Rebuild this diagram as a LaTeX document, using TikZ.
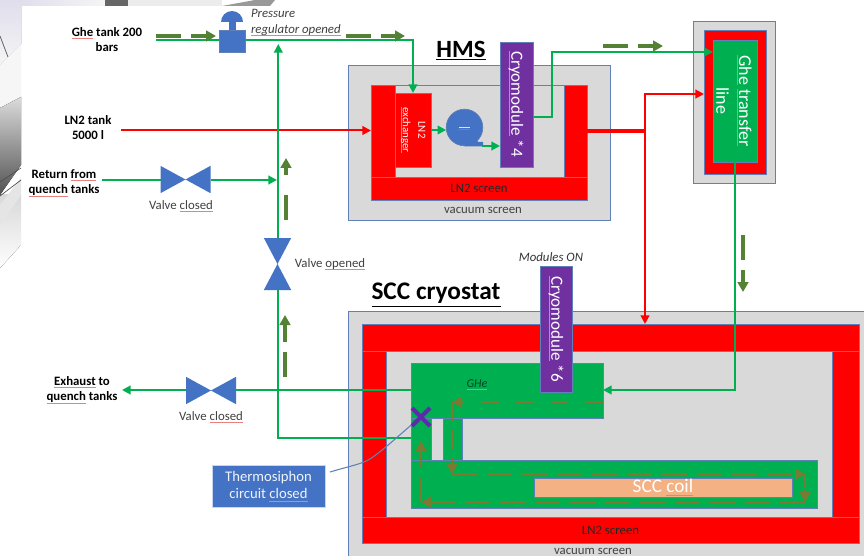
\documentclass[tikz,border=0pt]{standalone}
\usepackage{fontspec}
\setmainfont{Carlito}
\usetikzlibrary{arrows.meta,calc}
\definecolor{bred}{HTML}{FF0000}
\definecolor{bgreen}{HTML}{00B050}
\definecolor{bblue}{HTML}{4472C4}
\definecolor{bpurple}{HTML}{7030A0}
\definecolor{bgray}{HTML}{D9D9D9}
\definecolor{bedge}{HTML}{5F80B8}
\definecolor{bcoil}{HTML}{F4B183}
\definecolor{bdash}{HTML}{548235}
\definecolor{bbrown}{HTML}{7A7A32}
\definecolor{splred}{HTML}{E88080}
\definecolor{txtgray}{HTML}{404040}
\definecolor{lav}{HTML}{E0DEEC}
\newsavebox\splbox
\newcommand\spl[1]{\sbox\splbox{#1}\leavevmode\rlap{\color{splred}\rule[-1.8pt]{\wd\splbox}{0.5pt}}\usebox\splbox}
\newcommand\fs[2]{\fontsize{#1pt}{#2pt}\selectfont}
% \rbox[style]{name}{x1}{y1}{x2}{y2}{text}
\newcommand\rbox[7][]{%
  \pgfmathsetmacro\rcx{(#3+#5)/2}\pgfmathsetmacro\rcy{(#4+#6)/2}%
  \pgfmathsetmacro\rw{(#5-#3)*0.75}\pgfmathsetmacro\rh{(#6-#4)*0.75}%
  \node[part,#1,minimum width=\rw pt,minimum height=\rh pt] (#2) at (\rcx,\rcy) {#7};}
\newcommand\bowtieH[1]{\fill[bblue] (#1.north west)--(#1.south east)--(#1.north east)--(#1.south west)--cycle;}
\newcommand\bowtieV[1]{\fill[bblue] (#1.north west)--(#1.north east)--(#1.south west)--(#1.south east)--cycle;}
\tikzset{
  part/.style={draw=bedge,line width=0.7pt,inner sep=0pt,outer sep=0pt,align=center},
  redpart/.style={fill=bred},
  graypart/.style={fill=bgray},
  greenpart/.style={fill=bgreen},
  purplepart/.style={fill=bpurple,text=white},
  hole/.style={inner sep=0pt,outer sep=0pt},
  gline/.style={draw=bgreen,line width=1.5pt},
  rline/.style={draw=bred,line width=1.5pt},
  tip/.style={-{Triangle[length=6.5pt,width=6.5pt]}},
  flowg/.style={draw=bdash,line width=2.4pt,dash pattern=on 18.75pt off 7.5pt,-{Triangle[length=7.5pt,width=8pt]}},
  flowb/.style={draw=bbrown,line width=2.2pt,dash pattern=on 18.75pt off 7.5pt,-{Triangle[length=7.5pt,width=8pt]}},
  flowc/.style={flowb,dash pattern=on 13pt off 13pt},
  lab/.style={inner sep=0pt,outer sep=0pt,align=center,text=black,font=\bfseries\fs{9.6}{11.5}},
  note/.style={inner sep=0pt,outer sep=0pt,align=center,text=txtgray,font=\fs{9.6}{11.5}},
  inote/.style={note,font=\itshape\fs{9.6}{11.5}},
  ttl/.style={inner sep=0pt,outer sep=0pt,text=black,font=\bfseries},
}
\begin{document}
\begin{tikzpicture}[x=0.75pt,y=-0.75pt]
\useasboundingbox (0,0) rectangle (864,556);
% ---- remains of the CAD picture behind the white panel
\fill[white] (0,0) rectangle (864,556);
\begin{scope}
\clip (0,0) -- (21,0) -- (21,245) -- (0,268) -- cycle;
\fill[top color=white!85!black,bottom color=white] (0,195) rectangle (21,270);
\fill[top color=lav,bottom color=white!92!gray] (0,0) -- (21,0) -- (21,44) -- (0,65) -- cycle;
\fill[white!93!gray] (0,65) -- (21,44) -- (21,97) -- (0,108) -- cycle;
\fill[top color=white!72!gray,bottom color=black!68] (0,108) -- (21,97) -- (21,165) -- (0,195) -- cycle;
\fill[white!80!gray] (0,205) -- (21,178) -- (21,195) -- (0,225) -- cycle;
\draw[black!60,line width=0.6pt] (0,36) -- (8,57);
\draw[black!70,line width=0.5pt] (0,182) -- (21,168) (0,196) -- (21,180);
\end{scope}
\fill[left color=lav,right color=white!92!gray] (21,0) rectangle (105,6);
\fill[black!60] (105,0) rectangle (128,6);
\fill[white!85!gray] (128,0) rectangle (222,6);
\fill[black!40] (222,6) -- (255,0) -- (275,0) -- (270,6) -- cycle;
% ---- HMS cryostat
\rbox[graypart]{hmsvac}{348}{65}{610}{220}{}
\node[note] (hmsvaclab) at (483,210) {vacuum screen};
\rbox[graypart]{hmsin}{371}{85}{587}{200}{}
\rbox[redpart]{hmsl}{371}{85}{395}{177}{}
\rbox[redpart]{hmsr}{564}{85}{587}{177}{}
\rbox[redpart,text=black!85,font=\fs{9.6}{11}]{hmsb}{371}{177}{587}{200}{LN2 screen}
\rbox[redpart,text=white]{exch}{395}{93}{431}{167}{}
\node[rotate=-90,inner sep=0pt,align=center,text=white,font=\fs{8.2}{11.5}] (exchlab) at (exch.center) {LN2\\\spl{exchanger}};
\rbox[purplepart,font=\fs{12.8}{14}]{cryoa}{500}{42}{533}{167}{}
\node[rotate=-90,inner sep=0pt,text=white,font=\fs{12.8}{14}] (cryoalab) at (516,104) {\spl{Cryomodule} *4};
% pump
\node[circle,fill=bblue,draw=bedge,line width=0.5pt,minimum size=27.5pt,inner sep=0pt,outer sep=0pt] (pump) at (464.5,127.5) {};
\fill[bblue] (464.5,146.5) -- (483,146.5) -- (483,142) -- (478,142) -- (470,130) -- cycle;
\fill[white!80!bblue] (459,127) rectangle (470,128.5);
\fill[bred!70] (459,129) rectangle (470,129.8);
\node[ttl,font=\bfseries\fs{18.6}{20}] (hmstitle) at (461,51) {\underline{HMS}};
% ---- transfer line
\rbox[graypart]{tlvac}{693}{21}{775}{183}{}
\rbox[redpart]{tlred}{704}{30}{766}{174}{}
\rbox[greenpart]{tlgreen}{713}{40}{757}{162}{}
\node[rotate=-90,inner sep=0pt,align=center,text=white,font=\fs{13.5}{17}] (tllab) at (734,101) {\spl{Ghe} \spl{transfer}\\line};
% ---- SCC cryostat
\fill[bgray] (348,311) rectangle (864,556);
\draw[bedge,line width=0.7pt] (864,311) -- (348,311) -- (348,556);
\coordinate (sccvac) at (348,311);
\node[note] (sccvaclab) at (593,551.5) {vacuum screen};
\rbox[redpart]{scct}{362}{324}{859}{351}{}
\rbox[redpart]{sccl}{362}{351}{386}{517}{}
\rbox[redpart]{sccr}{832}{351}{859}{517}{}
\rbox[redpart,text=black!85,font=\fs{9.6}{11}]{sccb}{362}{517}{859}{543}{LN2 screen}
\node[ttl,font=\bfseries\fs{19}{20}] (scctitle) at (436,295) {\underline{SCC cryostat}};
\rbox[greenpart]{ghebot}{411}{460}{817}{508}{}
\rbox[greenpart]{legl}{411}{418}{431}{460}{}
\rbox[greenpart]{legr}{443}{418}{462}{460}{}
\rbox[greenpart]{ghetop}{411}{363}{603}{418}{}
\rbox[fill=bcoil,text=white,font=\fs{14.4}{15}]{coil}{534}{478}{792}{497}{SCC \spl{coil}}
\rbox[purplepart]{cryob}{540}{266}{572}{392}{}
\node[rotate=-90,inner sep=0pt,text=white,font=\fs{12.8}{14}] (cryoblab) at (556,329) {\spl{Cryomodule} *6};
\node[inote,text=black!60!bgreen,font=\itshape\fs{9}{10}] (ghe) at (477,385) {\spl{GHe}};
\node[inote,text=black!80] (modon) at (551,257) {Modules ON};
% ---- inputs and outputs
\node[lab] (gtank) at (107,39.5) {\spl{Ghe} tank 200\\bars};
\node[lab] (ntank) at (88,127.5) {LN2 tank\\5000 l};
\node[lab] (ret) at (64,183) {Return \spl{from}\\\spl{quench} tanks};
\node[lab] (exh) at (82,390) {\spl{Exhaust} to\\\spl{quench} tanks};
\coordinate (gstart) at (156,39.7);
\coordinate (nstart) at (121,130.5);
\coordinate (rstart) at (102,180);
\coordinate (estop) at (122,390);
% ---- regulator
\rbox[fill=bblue,draw=bedge,line width=0.4pt]{reg}{219}{30}{245}{52}{}
\fill[bblue] (228.5,21) rectangle (235.5,30);
\fill[bblue] (221,22) arc[start angle=180,end angle=360,radius=11] -- cycle;
\node[inote,align=left,anchor=north west] (reglab) at (251,9.5) {Pressure\\\spl{regulator opened}};
% ---- valves
\node[hole,minimum width=37.5pt,minimum height=20.5pt] (vret) at (185.5,179.5) {};
\node[hole,minimum width=20.5pt,minimum height=39pt] (vopen) at (277.5,264) {};
\node[hole,minimum width=37.5pt,minimum height=20.5pt] (vexh) at (211,390.5) {};
\node[note] (vretlab) at (181,206) {Valve \spl{closed}};
\node[note] (vopenlab) at (330,264) {Valve \spl{opened}};
\node[note] (vexhlab) at (211,417) {Valve \spl{closed}};
% ---- red lines
\draw[rline,tip] (nstart) -- (hmsl.west |- nstart);
\coordinate (rsplit) at (645,131);
\draw[rline,line width=2.4pt] (hmsr.east |- rsplit) -- (rsplit);
\draw[rline,tip] (rsplit) |- (tlred.west |- 0,94) ;
\draw[rline,tip] (rsplit) -- (rsplit |- scct.north);
% ---- green lines
\draw[gline] (gstart) -- (reg.west |- gstart);
\draw[gline,tip] (reg.east |- gstart) -| (exch.north -| 413,0);
\coordinate (vx) at (278.3,0);
\coordinate (lowj) at (278.3,438);
\draw[gline,tip] (vopen.north -| vx) -- (vx |- 0,44);
\draw[gline] (vopen.south -| vx) -- (lowj) -- (legl.west |- lowj);
\draw[gline] (ghetop.west |- 0,390) -- (vexh.east |- 0,390);
\draw[gline,tip] (vexh.west |- 0,390) -- (estop);
\draw[gline] (rstart) -- (vret.west |- rstart);
\draw[gline,tip] (vret.east |- rstart) -- (277,180);
\draw[gline,tip] (exch.east |- 0,130) -- (pump.west |- 0,130);
\draw[gline,tip] (482,146) -- (cryoa.west |- 0,146);
\draw[gline,tip] (cryoa.east |- 0,117) -- (552,117) -- (552,52) -- (tlgreen.west |- 0,52);
\draw[gline,tip] (735,162) -- (735,390) -- (ghetop.east |- 0,390);
\bowtieH{vret}
\bowtieV{vopen}
\bowtieH{vexh}
% ---- flow arrows
\coordinate (fa1) at (156,36); \coordinate (fa2) at (216,36);
\coordinate (fb1) at (346,36); \coordinate (fb2) at (405,36);
\coordinate (fc1) at (603,46); \coordinate (fc2) at (663,46);
\coordinate (fd1) at (743,235); \coordinate (fd2) at (743,292);
\coordinate (fe1) at (286,220); \coordinate (fe2) at (286,158);
\coordinate (ff1) at (285,377); \coordinate (ff2) at (285,315);
\draw[flowg] (fa1) -- (fa2);
\draw[flowg] (fb1) -- (fb2);
\draw[flowg] (fc1) -- (fc2);
\draw[flowg] (fd1) -- (fd2);
\draw[flowg,dash pattern=on 18.75pt off 15pt] (fe1) -- (fe2);
\draw[flowg] (ff1) -- (ff2);
\coordinate (s1) at (452,402); \coordinate (s2) at (452,474);
\coordinate (s3) at (805,474); \coordinate (s4) at (805,502);
\coordinate (s5) at (421,502); \coordinate (s6) at (421,441);
\draw[flowc] (ghetop.east |- s1) -- (s1);
\draw[flowc,dash pattern=on 15pt off 6pt] (s1) -- (s2);
\draw[flowb] (s2) -- (s3);
\draw[flowb,dash pattern=on 10pt off 1pt] (s3) -- (s4);
\draw[flowb] (s4) -- (s5);
\draw[flowb] (s5) -- (s6);
% ---- thermosiphon
\rbox[fill=bblue,draw=white!70!bblue,line width=0.5pt,text=white!92!bblue,font=\fs{11}{13.2}]{thermo}{212}{465}{325}{507.5}{Thermosiphon\\circuit \spl{closed}}
\coordinate (cstart) at (330,472);
\coordinate (xmark) at (421,417);
\draw[bedge,line width=0.8pt] (cstart) .. controls (350,466) and (362,464) .. (370,459) .. controls (385,449) and (400,434) .. (xmark);
\draw[bpurple!85!blue,line width=3pt] (412,408) -- (430,426) (430,408) -- (412,426);
\end{tikzpicture}
\end{document}
